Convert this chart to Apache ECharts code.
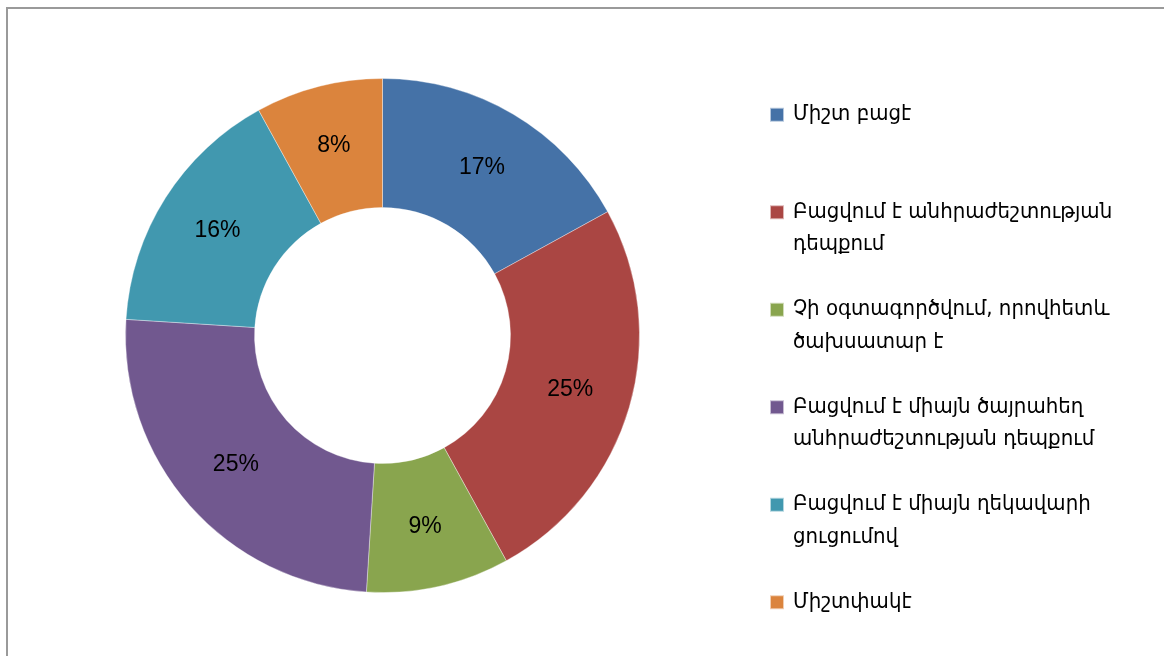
<!DOCTYPE html>
<html>
<head>
<meta charset="utf-8">
<script src="https://cdn.jsdelivr.net/npm/echarts@6/dist/echarts.min.js"></script>
<style>
html,body{margin:0;padding:0;background:#fff;}
#chart{width:1164px;height:656px;}
</style>
</head>
<body>
<div id="chart"></div>
<script>
const categories = [
  'Միշտ բացէ',
  'Բացվում է անհրաժեշտության դեպքում',
  'Չի օգտագործվում, որովհետև ծախսատար է',
  'Բացվում է միայն ծայրահեղ անհրաժեշտության դեպքում',
  'Բացվում է միայն ղեկավարի ցուցումով',
  'Միշտփակէ'
];
const legendLines = [
  ['Միշտ բացէ', ' '],
  ['Բացվում է անհրաժեշտության', 'դեպքում'],
  ['Չի օգտագործվում, որովհետև', 'ծախսատար է'],
  ['Բացվում է միայն ծայրահեղ', 'անհրաժեշտության դեպքում'],
  ['Բացվում է միայն ղեկավարի', 'ցուցումով'],
  ['Միշտփակէ', ' ']
];
const values = [17, 25, 9, 25, 16, 8];
const colors = ['#4572A7', '#AA4643', '#89A54E', '#71588F', '#4198AF', '#DB843D'];

const chart = echarts.init(document.getElementById('chart'));
const legendFont = '"DejaVu Sans Condensed", "DejaVu Sans", sans-serif';
chart.setOption({
  animation: false,
  color: colors,
  graphic: [{
    type: 'rect',
    shape: { x: 7, y: 8, width: 1300, height: 800 },
    style: { fill: 'none', stroke: '#9a9a9a', lineWidth: 2 },
    silent: true
  }],
  legend: {
    orient: 'vertical',
    left: 769,
    top: 66,
    padding: 0,
    itemGap: 0,
    itemWidth: 14,
    itemHeight: 14,
    icon: 'rect',
    data: categories,
    formatter: function (name) {
      const l = legendLines[categories.indexOf(name)];
      // blank first line keeps the marker level with the first text line
      return ' \n' + l[0] + '\n' + l[1];
    },
    textStyle: {
      fontFamily: legendFont,
      fontSize: 22,
      lineHeight: 32.5,
      color: '#000',
      padding: [0, 0, 0, 4]
    }
  },
  series: [{
    type: 'pie',
    center: [382.5, 335.5],
    radius: [128, 257],
    startAngle: 90,
    clockwise: true,
    avoidLabelOverlap: false,
    itemStyle: { borderColor: 'rgba(255,255,255,0.6)', borderWidth: 0.6 },
    label: {
      show: true,
      position: 'inside',
      formatter: function (p) { return p.value + '%'; },
      fontFamily: '"Liberation Sans Narrow", "Liberation Sans", Arial, sans-serif',
      fontSize: 23,
      color: '#000'
    },
    labelLine: { show: false },
    emphasis: { disabled: true },
    data: categories.map(function (name, i) {
      return { name: name, value: values[i] };
    })
  }]
});
</script>
</body>
</html>
